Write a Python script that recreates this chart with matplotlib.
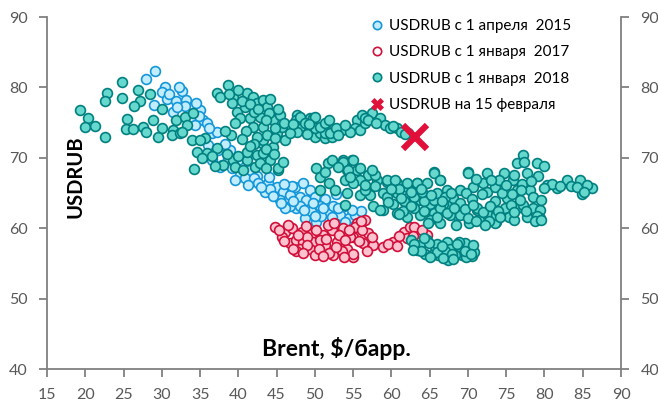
import numpy as np
import matplotlib.pyplot as plt
from matplotlib.lines import Line2D

plt.rcParams["font.family"] = ["Lato", "Open Sans", "DejaVu Sans"]

# USDRUB vs Brent, since 1 April 2015
blue_x = [29.1, 27.9, 30.4, 30.0, 32.6, 30.7, 31.9, 33.2, 29.0, 31.5, 33.0, 35.0, 33.9, 35.4, 35.9, 34.3, 36.5, 37.2,
          36.0, 37.3, 38.7, 36.6, 39.2, 40.2, 38.9, 37.9, 40.0, 41.5, 40.9, 42.5,
          37.6, 39.6, 42.0, 42.6, 43.9, 45.0, 43.5, 45.9, 45.4, 46.8, 47.4, 48.5, 49.4, 48.1, 48.9, 50.0, 51.3, 50.7,
          47.6, 48.7, 50.2, 51.8, 52.4, 53.3, 54.4, 46.8, 46.1, 55.2, 54.0,
          34.8, 32.0, 44.2, 47.0, 49.5, 52.8, 53.8, 56.0, 48.0, 50.8,
          41.2, 43.0, 44.5, 45.6, 47.2, 48.6, 49.8, 51.0, 52.2, 53.0, 54.8, 55.6, 50.0, 46.0, 44.0, 38.3, 36.2,
          34.5, 31.0, 32.2]
blue_y = [82.3, 81.2, 80.0, 79.4, 79.5, 78.3, 78.0, 78.2, 77.5, 76.5, 77.3, 76.8, 75.6, 75.4, 75.0, 74.7, 73.5, 73.7,
          71.8, 71.1, 70.0, 69.7, 68.6, 67.6, 71.1, 69.0, 69.7, 68.3, 67.1, 67.4,
          68.7, 66.8, 67.1, 66.4, 66.4, 65.9, 65.2, 65.2, 64.0, 64.7, 65.9, 66.4, 65.4, 64.5, 64.0, 64.5, 64.2, 63.1,
          62.8, 61.4, 60.9, 62.1, 63.1, 61.9, 61.4, 63.1, 62.8, 61.9, 60.9,
          76.0, 77.2, 65.6, 66.0, 62.5, 64.8, 63.2, 62.5, 63.2, 61.8,
          66.2, 65.8, 64.6, 63.6, 63.8, 62.6, 63.6, 62.9, 61.6, 62.8, 62.6, 60.8, 61.8, 66.3, 67.3, 72.0, 74.3,
          77.8, 79.0, 80.0]

# since 1 January 2017
red_x = [44.8, 46.1, 45.7, 47.0, 46.8, 47.6, 48.3, 48.5, 48.1, 49.6, 49.8, 49.4, 50.0, 51.1, 51.3, 52.2, 52.9, 52.4,
         53.7, 54.2, 55.0, 55.5, 55.0,
         56.6, 55.2, 54.6, 57.0, 56.3, 55.0, 57.6, 58.9, 60.2, 61.6, 62.4, 63.5, 64.6, 62.0, 56.1,
         50.7, 51.7, 47.5, 53.2, 50.5, 48.9, 46.0, 53.5, 51.8, 54.4, 56.8, 49.0, 52.5,
         45.3, 46.5, 47.8, 49.0, 50.2, 51.5, 52.7, 54.0, 55.8, 56.0, 57.5, 47.2, 48.4, 51.0, 53.8, 59.5, 61.0,
         63.0, 62.8, 64.0, 60.7]
red_y = [60.2, 59.5, 58.8, 60.0, 57.9, 58.3, 59.5, 58.1, 57.1, 59.3, 58.1, 57.1, 56.2, 59.0, 57.6, 59.7, 58.1, 56.2,
         60.0, 57.1, 58.8, 60.7, 55.9,
         61.2, 60.2, 58.8, 59.3, 57.9, 56.4, 57.6, 57.4, 58.1, 59.5, 60.2, 59.5, 59.0, 58.6, 59.7,
         58.3, 60.5, 56.8, 59.0, 57.0, 60.3, 58.2, 56.8, 56.5, 59.8, 56.7, 58.8, 60.7,
         59.8, 60.4, 59.0, 57.6, 59.8, 58.4, 57.3, 58.3, 58.2, 61.0, 58.8, 57.0, 56.5, 56.0, 55.9, 57.8, 58.9,
         60.1, 58.9, 59.8, 57.5]

# since 1 January 2018
teal_x = [19.3, 20.4, 20.0, 21.3, 22.6, 22.8, 22.6, 24.8, 24.8, 25.4, 25.3, 26.3, 26.9, 27.2, 26.4, 28.4, 27.6, 28.0,
          28.8, 29.5, 30.0, 30.0, 31.5, 31.9, 31.3, 32.4, 33.0, 33.3, 34.1, 33.9, 35.6, 37.2, 34.2, 32.6,
          35.0, 34.6, 35.9, 35.3, 37.2, 38.0, 39.3, 39.6, 40.6, 41.1, 42.2, 41.1, 42.4, 43.1, 44.1, 45.2, 51.7,
          38.7, 37.6, 39.3, 39.2, 39.8, 41.1, 41.9, 40.9, 42.4, 43.2, 43.7, 40.2, 41.5, 42.8, 39.6, 41.9, 43.2,
          44.5, 45.0, 43.2, 44.5, 43.2, 45.7, 45.4, 46.1, 47.7, 48.1, 49.4, 50.0, 51.3, 50.7, 51.3, 47.7, 46.8,
          40.5, 42.0, 44.0, 43.8, 42.5, 41.0, 40.5, 44.8, 46.0, 45.2, 44.2, 38.8,
          47.6, 49.8, 50.0, 51.3, 52.2, 53.5, 55.5, 55.2,
          45.2, 50.2, 52.2, 53.7, 54.8, 54.2, 50.7, 51.8, 55.5,
          48.1, 48.7, 50.0, 50.7, 51.3, 52.0, 54.6, 56.1, 55.9, 56.6, 57.4, 58.5, 59.2, 59.8, 60.7, 61.3, 62.2,
          53.7, 55.0, 54.3, 55.9, 56.9, 58.1, 59.4, 60.7, 62.0, 63.3, 65.5, 66.4, 70.0,
          54.2, 55.9, 57.2, 58.9, 60.2, 62.0, 63.7, 65.0, 67.2, 68.5, 68.5, 71.2, 72.5, 73.7, 53.9, 57.6, 58.9,
          65.5, 66.4, 50.7, 52.6, 53.9, 55.9, 57.9,
          65.5, 70.0, 72.5, 74.7, 77.2, 76.4, 79.0, 79.9, 75.9, 77.7, 79.2, 80.3, 81.6, 82.9, 84.7, 84.9, 86.2,
          76.4, 78.1, 59.4, 60.5, 62.0, 63.3, 64.6, 66.4, 67.2, 69.0, 70.7, 72.0, 72.5, 73.5, 59.4, 60.7, 61.6,
          62.9, 64.2, 65.5, 66.8, 68.1, 60.7, 62.0, 63.7, 65.0, 66.4, 67.7, 69.0, 71.2, 71.4, 72.0, 73.5, 73.7,
          73.5, 74.9, 75.1, 76.4, 77.2, 77.7, 78.5, 79.4, 79.4, 75.3, 69.8, 58.5,
          62.6, 63.3, 64.6, 64.4, 65.7, 66.1, 67.2, 67.7, 67.4, 69.0, 69.2, 70.3, 70.5, 69.6, 68.3, 65.3,
          61.0, 64.0, 66.0, 63.0, 61.5, 64.8, 67.0, 70.5, 71.8, 74.5, 76.8, 78.5, 74.0, 77.0, 81.0, 83.5, 85.6,
          70.2, 72.8, 76.0, 79.0, 66.0, 68.8, 70.8, 63.8, 67.0, 69.8,
          62.9, 63.9, 64.9, 65.9, 66.6, 67.9, 68.6, 69.6, 70.6, 70.4, 65.0, 66.8, 68.0, 62.8, 64.2,
          56.5, 57.8, 59.9, 61.3, 62.6, 63.9, 65.2, 66.6, 67.8, 68.9, 69.6, 70.6, 59.6, 61.0, 62.5, 64.3, 66.0,
          67.3, 68.2, 70.0, 71.0, 72.9, 73.9, 75.6, 76.0, 77.6, 78.8, 79.6, 74.2, 72.2,
          71.0, 73.0, 75.0, 76.0, 77.3, 78.2, 80.0, 82.0, 84.2, 85.2, 76.9, 79.6, 75.8,
          39.9, 41.5, 42.6, 43.6, 44.8, 42.0, 41.5, 43.6, 39.0, 38.3,
          36.5, 38.5, 40.0, 42.8, 43.6, 44.6, 45.8, 37.0,
          49.2, 51.8, 52.8, 53.0, 54.0, 56.6, 57.0, 58.0, 60.2, 61.8, 49.0, 47.2,
          51.3, 53.0, 55.0, 56.6, 57.5, 54.6]
teal_y = [76.8, 75.6, 74.4, 74.5, 72.9, 79.2, 78.1, 80.7, 78.5, 75.5, 74.1, 74.1, 79.6, 78.1, 77.3, 79.0, 74.4, 73.7,
          75.3, 73.0, 74.3, 76.9, 74.0, 75.4, 73.2, 73.5, 75.8, 74.6, 76.4, 72.5, 72.8, 79.2, 68.4, 73.7,
          72.5, 70.8, 70.7, 70.0, 71.4, 69.0, 69.7, 68.7, 68.3, 69.7, 68.7, 70.8, 70.4, 72.1, 69.7, 68.3, 69.3,
          80.3, 78.6, 78.6, 77.8, 76.5, 79.2, 78.6, 77.2, 77.8, 78.2, 77.2, 75.6, 75.6, 75.8, 74.9, 74.4, 74.4,
          75.4, 73.5, 72.5, 71.5, 70.7, 74.4, 76.1, 72.5, 76.1, 74.4, 75.6, 73.0, 74.7, 73.5, 72.8, 73.7, 73.5,
          78.0, 76.5, 76.3, 73.3, 73.0, 73.8, 72.6, 72.8, 75.0, 77.0, 78.4, 79.0,
          75.4, 75.6, 74.2, 73.5, 73.0, 73.9, 75.4, 74.2,
          68.5, 68.5, 69.7, 69.7, 69.7, 68.3, 67.3, 66.4, 68.3,
          75.8, 74.9, 75.8, 74.4, 74.9, 73.5, 73.7, 76.1, 73.9, 74.9, 76.3, 75.6, 74.7, 74.2, 74.2, 73.7, 73.5,
          69.4, 69.7, 68.3, 68.6, 67.6, 66.8, 66.6, 66.4, 65.9, 66.4, 68.0, 66.8, 68.0,
          65.0, 64.7, 64.7, 65.0, 63.5, 64.3, 64.0, 63.5, 63.3, 61.9, 60.5, 62.6, 62.1, 60.9, 63.3, 63.1, 62.6,
          62.1, 60.7, 65.4, 65.4, 66.8, 66.8, 67.6,
          67.9, 67.9, 67.8, 67.9, 70.4, 69.2, 69.3, 68.8, 66.8, 67.8, 67.4, 66.1, 65.7, 66.8, 66.8, 64.9, 65.7,
          65.4, 65.4, 66.8, 66.8, 66.4, 66.4, 66.4, 66.8, 65.4, 65.4, 65.9, 66.4, 65.2, 65.9, 64.5, 65.0, 63.8,
          64.5, 63.8, 64.0, 63.5, 64.3, 62.1, 61.6, 61.9, 61.2, 62.8, 61.9, 61.9, 62.8, 61.2, 62.3, 60.7, 61.9,
          63.8, 62.8, 64.3, 62.8, 63.3, 61.6, 62.8, 62.6, 61.4, 61.6, 65.0, 62.6,
          58.3, 56.9, 58.3, 56.4, 57.4, 56.2, 58.1, 57.1, 55.5, 57.4, 56.2, 57.1, 56.0, 57.9, 56.2, 56.2,
          65.5, 65.2, 65.0, 62.8, 62.5, 60.8, 64.5, 64.2, 64.8, 65.0, 64.0, 64.5, 66.9, 66.3, 66.3, 66.0, 66.2,
          60.8, 61.0, 61.1, 61.8, 57.8, 58.0, 56.6, 57.6, 56.8, 55.9,
          57.8, 56.7, 57.9, 56.6, 57.5, 56.4, 57.7, 56.8, 57.6, 56.4, 55.9, 55.8, 55.6, 56.9, 58.6,
          65.4, 66.0, 65.6, 64.3, 65.1, 65.6, 64.7, 63.9, 65.0, 63.6, 62.7, 63.3, 63.7, 62.0, 63.2, 62.4, 61.6,
          62.2, 62.9, 61.5, 61.0, 63.1, 62.4, 63.3, 62.3, 62.4, 61.0, 61.2, 61.6, 60.5,
          67.0, 66.9, 66.1, 67.6, 69.4, 66.7, 65.7, 66.0, 65.8, 65.2, 65.4, 64.0, 64.8,
          79.6, 77.7, 76.9, 75.4, 74.3, 72.0, 71.7, 71.3, 73.2, 73.8,
          70.3, 70.5, 70.2, 69.2, 68.6, 70.6, 69.4, 68.8,
          74.8, 75.3, 74.2, 73.2, 74.6, 75.6, 75.3, 74.9, 74.5, 73.4, 73.4, 74.8,
          68.0, 68.7, 66.4, 66.2, 68.2, 67.3]

# 15 February
feb_x = [63.1]
feb_y = [73.0]

labels = ["USDRUB с 1 апреля  2015", "USDRUB с 1 января  2017",
          "USDRUB с 1 января  2018", "USDRUB на 15 февраля"]

grey = "#595959"
fig = plt.figure(figsize=(6.58, 4.01), dpi=100)
ax = fig.add_axes([0.0714, 0.0798, 0.8724, 0.8778])

ax.scatter(blue_x, blue_y, s=50, facecolor="#C2ECFF", edgecolor="#1497D8", linewidths=1.2, zorder=2)
ax.scatter(red_x, red_y, s=50, facecolor="#FFC2CE", edgecolor="#D0103A", linewidths=1.2, zorder=3)
ax.scatter(teal_x, teal_y, s=50, facecolor="#66D8CD", edgecolor="#008080", linewidths=1.2, zorder=4)
ax.plot(feb_x, feb_y, "x", color="#E0103A", markersize=17, mew=4.5, zorder=5)

ax.set_xlim(15, 90)
ax.set_ylim(40, 90)
ax.set_xticks(np.arange(15, 91, 5))
ax.set_yticks(np.arange(40, 91, 10))

for side in ["left", "right", "bottom"]:
    ax.spines[side].set_color("#808080")
    ax.spines[side].set_linewidth(1.3)
ax.spines["top"].set_visible(False)
ax.tick_params(axis="both", colors="#808080", labelcolor=grey, labelsize=11.5,
               direction="out", length=6, width=1.3, pad=8)
ax.tick_params(axis="y", right=True, labelright=True)

fig.text(0.114, 0.559, "USDRUB", rotation=90, fontsize=14.5, fontweight="bold",
         ha="center", va="center")
fig.text(0.398, 0.13, "Brent, $/барр.", fontsize=16.5, fontweight="bold",
         ha="left", va="center")

handles = [
    Line2D([], [], ls="", marker="o", ms=6, mfc="#C2ECFF", mec="#1497D8", mew=1.2),
    Line2D([], [], ls="", marker="o", ms=6, mfc="#FFFFFF", mec="#D0103A", mew=1.2),
    Line2D([], [], ls="", marker="o", ms=6, mfc="#66D8CD", mec="#008080", mew=1.2),
    Line2D([], [], ls="", marker="X", ms=8, mfc="#E0103A", mec="#E0103A", mew=0.5),
]
fig.legend(handles, labels, loc="upper left", bbox_to_anchor=(0.562, 0.952),
           frameon=False, fontsize=11, handlelength=1.0, handletextpad=0.25,
           borderpad=0, borderaxespad=0, labelspacing=0.8)

fig.savefig("out.png", dpi=100)
